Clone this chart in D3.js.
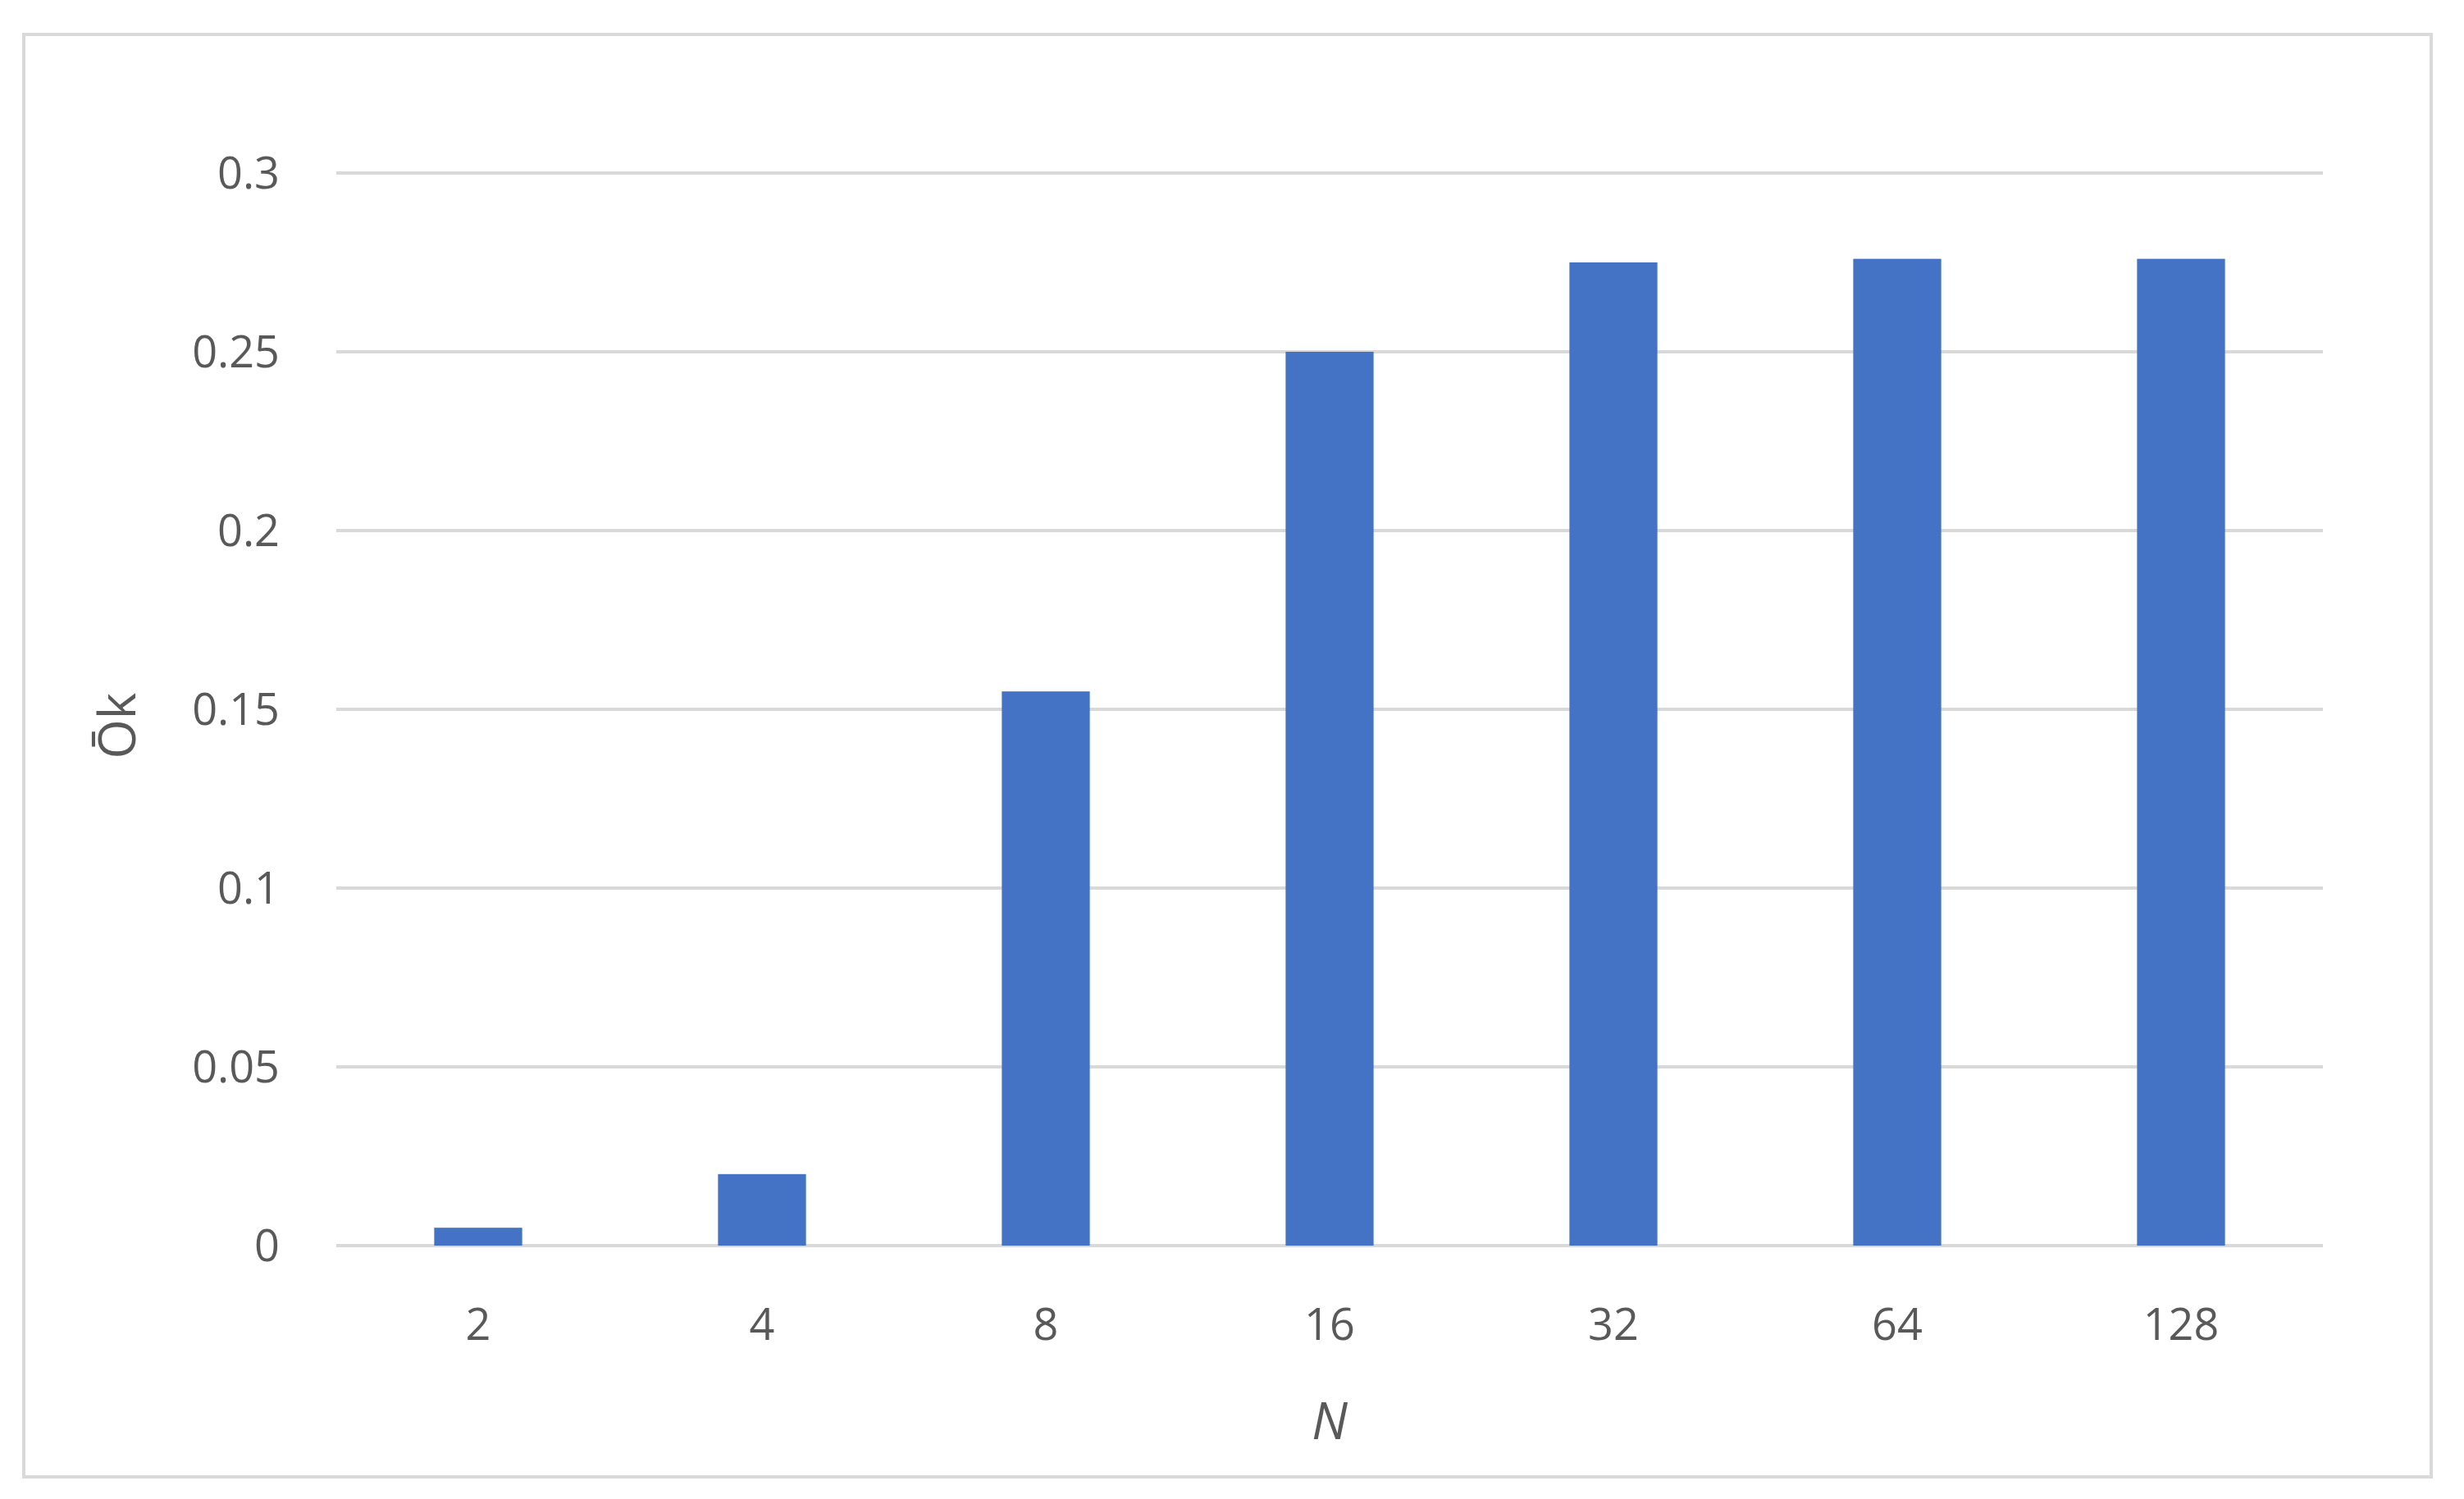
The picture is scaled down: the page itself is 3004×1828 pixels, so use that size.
<!DOCTYPE html>
<html><head><meta charset="utf-8">
<script src="https://cdn.jsdelivr.net/npm/d3@7"></script>
<style>body{margin:0;background:#fff}</style>
</head><body>
<svg id="chart"></svg>
<script>
const categories = ["2", "4", "8", "16", "32", "64", "128"];
const values = [0.005, 0.02, 0.155, 0.25, 0.275, 0.276, 0.276];
const yTicks = [0, 0.05, 0.1, 0.15, 0.2, 0.25, 0.3];

const width = 3004, height = 1828;
const svg = d3.select("#chart").attr("width", width).attr("height", height);
const font = "'Open Sans', 'Noto Sans', sans-serif";

// outer frame
svg.append("rect").attr("x", 29).attr("y", 42).attr("width", 2935).attr("height", 1759)
  .attr("fill", "#fff").attr("stroke", "#d9d9d9").attr("stroke-width", 4);

const plotLeft = 410, plotRight = 2832, plotTop = 211, plotBottom = 1519;
const x = d3.scaleBand().domain(categories).range([plotLeft, plotRight]).paddingInner(0.69).paddingOuter(0.345);
const y = d3.scaleLinear().domain([0, 0.3]).range([plotBottom, plotTop]);

// gridlines
svg.append("g").selectAll("line").data(yTicks).enter().append("line")
  .attr("x1", plotLeft).attr("x2", plotRight)
  .attr("y1", d => y(d)).attr("y2", d => y(d))
  .attr("stroke", "#d9d9d9").attr("stroke-width", 4);

// y labels
svg.append("g").selectAll("text").data(yTicks).enter().append("text")
  .attr("x", 341).attr("y", d => y(d)).attr("dy", "0.35em")
  .attr("text-anchor", "end").attr("font-family", font).attr("font-size", 54)
  .attr("fill", "#595959").text(d => d);

// bars
svg.append("g").selectAll("rect").data(values).enter().append("rect")
  .attr("x", (d, i) => x(categories[i]))
  .attr("y", d => y(d))
  .attr("width", x.bandwidth())
  .attr("height", d => plotBottom - y(d))
  .attr("fill", "#4472C4");

// x labels
svg.append("g").selectAll("text").data(categories).enter().append("text")
  .attr("x", d => x(d) + x.bandwidth() / 2).attr("y", 1634)
  .attr("text-anchor", "middle").attr("font-family", font).attr("font-size", 54)
  .attr("fill", "#595959").text(d => d);

// axis titles
svg.append("text").attr("x", (plotLeft + plotRight) / 2).attr("y", 1755)
  .attr("text-anchor", "middle").attr("font-family", font).attr("font-size", 62)
  .attr("font-style", "italic").attr("fill", "#595959").text("N");

svg.append("text").attr("transform", "translate(165," + ((plotTop + plotBottom) / 2 + 20) + ") rotate(-90)")
  .attr("text-anchor", "middle").attr("font-family", font).attr("font-size", 62)
  .attr("fill", "#595959").text("Ōk");
</script>
</body></html>
